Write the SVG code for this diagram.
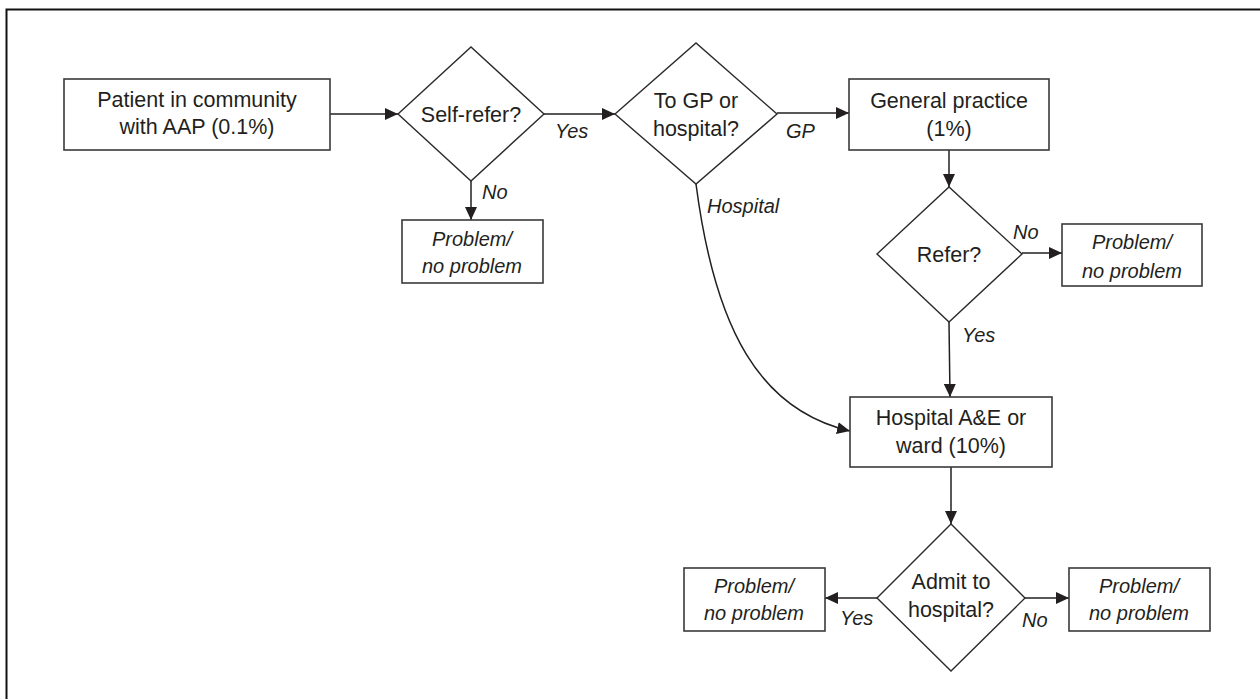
<svg xmlns="http://www.w3.org/2000/svg" width="1260" height="699" viewBox="0 0 1260 699">
  <style>
    .box { fill: #ffffff; stroke: #3a3a3a; stroke-width: 1.6; }
    .dia { fill: #ffffff; stroke: #2b2b2b; stroke-width: 1.4; }
    .lbl { font-family: "Liberation Sans", Arial, sans-serif; font-size: 21.5px; fill: #231f20; text-anchor: middle; }
    .it { font-family: "Liberation Sans", Arial, sans-serif; font-size: 20px; font-style: italic; fill: #231f20; }
    .itc { text-anchor: middle; }
    .edge { fill: none; stroke: #231f20; stroke-width: 1.5; marker-end: url(#arrow); }
  </style>
  <defs>
    <marker id="arrow" viewBox="0 0 13 12" refX="13" refY="6" markerWidth="13" markerHeight="12" markerUnits="userSpaceOnUse" orient="auto">
      <path d="M0,0 L13,6 L0,12 Z" fill="#231f20"/>
    </marker>
  </defs>

  <rect width="1260" height="699" fill="#ffffff"/>
  <!-- page frame (open at right and bottom) -->
  <path d="M6.5,699 V9.5 H1260" fill="none" stroke="#111111" stroke-width="2"/>

  <g id="connectors">
    <path class="edge" d="M330,114 H398"/>
    <path class="edge" d="M544,114 H615"/>
    <path class="edge" d="M777,113 H849"/>
    <path class="edge" d="M471,181 V220"/>
    <path class="edge" d="M949,150 V187"/>
    <path class="edge" d="M1022,253 H1062"/>
    <path class="edge" d="M949,322 L950,397"/>
    <path class="edge" d="M696,184 C715,330 760,410 850,431"/>
    <path class="edge" d="M951,467 V524"/>
    <path class="edge" d="M877,598 H825"/>
    <path class="edge" d="M1025,598 H1069"/>
    <text class="it" x="555" y="138">Yes</text>
    <text class="it" x="786" y="138">GP</text>
    <text class="it" x="482" y="199">No</text>
    <text class="it" x="707" y="213">Hospital</text>
    <text class="it" x="1013" y="239">No</text>
    <text class="it" x="962" y="342">Yes</text>
    <text class="it" x="840" y="625">Yes</text>
    <text class="it" x="1022" y="627">No</text>
  </g>

  <g id="patient">
    <rect class="box" x="64" y="79" width="266" height="71"/>
    <text class="lbl" x="197" y="107">Patient in community</text>
    <text class="lbl" x="197" y="134">with AAP (0.1%)</text>
  </g>

  <g id="self-refer">
    <polygon class="dia" points="398,114 471,47 544,114 471,181"/>
    <text class="lbl" x="471" y="122">Self-refer?</text>
  </g>

  <g id="outcome-self">
    <rect class="box" x="402" y="220" width="141" height="63"/>
    <text class="it itc" x="472" y="246">Problem/</text>
    <text class="it itc" x="472" y="273">no problem</text>
  </g>

  <g id="gp-or-hospital">
    <polygon class="dia" points="615,114 696,43 777,114 696,184"/>
    <text class="lbl" x="696" y="108">To GP or</text>
    <text class="lbl" x="696" y="136">hospital?</text>
  </g>

  <g id="general-practice">
    <rect class="box" x="849" y="79" width="200" height="71"/>
    <text class="lbl" x="949" y="108">General practice</text>
    <text class="lbl" x="949" y="136">(1%)</text>
  </g>

  <g id="refer">
    <polygon class="dia" points="877,254 949,187 1022,254 949,322"/>
    <text class="lbl" x="949" y="262">Refer?</text>
  </g>

  <g id="outcome-refer">
    <rect class="box" x="1062" y="224" width="140" height="62"/>
    <text class="it itc" x="1132" y="249">Problem/</text>
    <text class="it itc" x="1132" y="278">no problem</text>
  </g>

  <g id="hospital">
    <rect class="box" x="850" y="397" width="202" height="70"/>
    <text class="lbl" x="951" y="425">Hospital A&amp;E or</text>
    <text class="lbl" x="951" y="453">ward (10%)</text>
  </g>

  <g id="admit">
    <polygon class="dia" points="877,598 951,524 1025,598 951,671"/>
    <text class="lbl" x="951" y="589">Admit to</text>
    <text class="lbl" x="951" y="617">hospital?</text>
  </g>

  <g id="outcome-admit-yes">
    <rect class="box" x="684" y="568" width="141" height="63"/>
    <text class="it itc" x="754" y="593">Problem/</text>
    <text class="it itc" x="754" y="620">no problem</text>
  </g>

  <g id="outcome-admit-no">
    <rect class="box" x="1069" y="568" width="141" height="63"/>
    <text class="it itc" x="1139" y="593">Problem/</text>
    <text class="it itc" x="1139" y="620">no problem</text>
  </g>
</svg>
